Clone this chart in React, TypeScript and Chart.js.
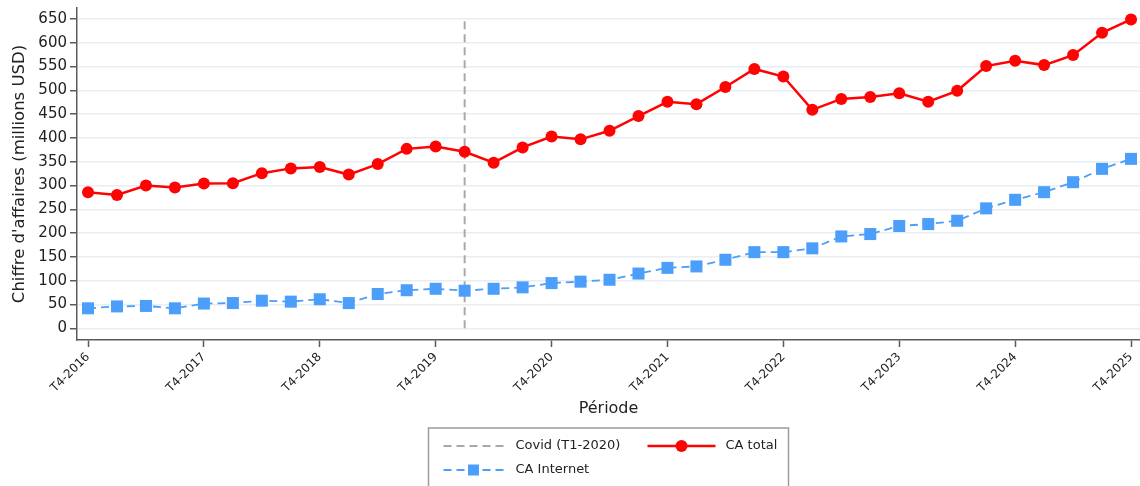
import React, { useEffect, useRef } from 'react';
import { Chart, registerables } from 'chart.js';

Chart.register(...registerables);

const periods = [
  'T4-2016', 'T1-2017', 'T2-2017', 'T3-2017', 'T4-2017', 'T1-2018', 'T2-2018', 'T3-2018', 'T4-2018',
  'T1-2019', 'T2-2019', 'T3-2019', 'T4-2019', 'T1-2020', 'T2-2020', 'T3-2020', 'T4-2020',
  'T1-2021', 'T2-2021', 'T3-2021', 'T4-2021', 'T1-2022', 'T2-2022', 'T3-2022', 'T4-2022',
  'T1-2023', 'T2-2023', 'T3-2023', 'T4-2023', 'T1-2024', 'T2-2024', 'T3-2024', 'T4-2024',
  'T1-2025', 'T2-2025', 'T3-2025', 'T4-2025',
];

const caTotal = [
  286, 280, 300, 296, 304, 305, 326, 336, 339, 323,
  345, 377, 382, 371, 348, 380, 403, 397, 415, 446,
  476, 471, 507, 545, 529, 459, 482, 486, 494, 476,
  499, 551, 562, 553, 574, 621, 649,
];

const caInternet = [
  42, 46, 47, 42, 52, 53, 58, 56, 61, 53,
  72, 80, 83, 79, 83, 86, 95, 98, 102, 115,
  127, 130, 144, 160, 160, 168, 193, 198, 215, 219,
  226, 252, 270, 286, 307, 335, 356,
];

const covidPeriod = 'T1-2020';
const covidSpan = [0, 650];

const yTicks = [0, 50, 100, 150, 200, 250, 300, 350, 400, 450, 500, 550, 600, 650];

const FONT = "'DejaVu Sans', 'Noto Sans', sans-serif";
const RED = '#ff0202';
const BLUE = '#4b9ffa';
const GRAY = '#a9a9a9';
const AXIS = '#5a5a5a';
const TEXT = '#222222';

const boxLegend = {
  id: 'boxLegend',
  afterDraw(chart: any) {
    const { ctx, chartArea } = chart;
    const cx = (chartArea.left + chartArea.right) / 2;
    const w = 360;
    const left = cx - w / 2;
    const top = 428;
    const row1 = 446;
    const row2 = 470;
    ctx.save();
    ctx.strokeStyle = '#9c9c9c';
    ctx.lineWidth = 1.5;
    ctx.strokeRect(left, top, w, 60);

    ctx.font = `13px ${FONT}`;
    ctx.fillStyle = TEXT;
    ctx.textBaseline = 'middle';
    ctx.textAlign = 'left';

    // Covid
    ctx.strokeStyle = GRAY;
    ctx.lineWidth = 2;
    ctx.setLineDash([8, 5]);
    ctx.beginPath();
    ctx.moveTo(left + 15, row1);
    ctx.lineTo(left + 76, row1);
    ctx.stroke();
    ctx.fillText('Covid (T1-2020)', left + 87, row1);

    // CA total
    ctx.setLineDash([]);
    ctx.strokeStyle = RED;
    ctx.lineWidth = 2.5;
    ctx.beginPath();
    ctx.moveTo(left + 219, row1);
    ctx.lineTo(left + 287, row1);
    ctx.stroke();
    ctx.fillStyle = RED;
    ctx.beginPath();
    ctx.arc(left + 253, row1, 6, 0, Math.PI * 2);
    ctx.fill();
    ctx.fillStyle = TEXT;
    ctx.fillText('CA total', left + 297, row1);

    // CA Internet
    ctx.strokeStyle = BLUE;
    ctx.lineWidth = 1.8;
    ctx.setLineDash([8, 5]);
    ctx.beginPath();
    ctx.moveTo(left + 15, row2);
    ctx.lineTo(left + 76, row2);
    ctx.stroke();
    ctx.setLineDash([]);
    ctx.fillStyle = BLUE;
    ctx.fillRect(left + 45 - 5.5, row2 - 5.5, 11, 11);
    ctx.fillStyle = TEXT;
    ctx.fillText('CA Internet', left + 87, row2);
    ctx.restore();
  },
};

export default function App() {
  const canvasRef = useRef<HTMLCanvasElement | null>(null);

  useEffect(() => {
    if (!canvasRef.current) return;
    const covidIdx = periods.indexOf(covidPeriod);
    const chart = new Chart(canvasRef.current, {
      type: 'line',
      data: {
        datasets: [
          {
            label: 'CA total',
            data: caTotal.map((v, i) => ({ x: i, y: v })),
            borderColor: RED,
            backgroundColor: RED,
            borderWidth: 2.5,
            pointStyle: 'circle',
            pointRadius: 6,
            pointBorderWidth: 0,
            pointBackgroundColor: RED,
            tension: 0,
          },
          {
            label: 'CA Internet',
            data: caInternet.map((v, i) => ({ x: i, y: v })),
            borderColor: BLUE,
            backgroundColor: BLUE,
            borderWidth: 1.8,
            borderDash: [8, 5],
            pointStyle: 'rect',
            pointRadius: 8.5,
            pointBorderWidth: 0,
            pointBackgroundColor: BLUE,
            tension: 0,
          },
          {
            label: 'Covid (T1-2020)',
            data: covidSpan.map((v) => ({ x: covidIdx, y: v })),
            borderColor: GRAY,
            borderWidth: 2,
            borderDash: [8, 5],
            pointRadius: 0,
            tension: 0,
          },
        ],
      },
      options: {
        animation: false,
        responsive: true,
        maintainAspectRatio: false,
        layout: { autoPadding: false, padding: { left: 0, right: 0, top: 8, bottom: 0 } },
        plugins: {
          legend: { display: false },
          tooltip: { enabled: false },
        },
        scales: {
          x: {
            type: 'linear',
            min: -0.38,
            max: 36.31,
            afterFit(scale: any) {
              scale.height = 146;
              scale.paddingLeft = 0;
              scale.paddingRight = 0;
            },
            afterBuildTicks(scale: any) {
              scale.ticks = periods
                .map((p, i) => ({ p, i }))
                .filter((o) => o.p.startsWith('T4'))
                .map((o) => ({ value: o.i }));
            },
            ticks: {
              autoSkip: false,
              minRotation: 45,
              maxRotation: 45,
              padding: 3,
              color: TEXT,
              font: { family: FONT, size: 12 },
              callback: (v: any) => periods[Number(v)] ?? '',
            },
            grid: {
              display: true,
              drawOnChartArea: false,
              drawTicks: true,
              tickLength: 7,
              tickColor: AXIS,
              tickWidth: 1.5,
            },
            border: { display: true, color: AXIS, width: 1.5 },
            title: {
              display: true,
              text: 'Période',
              color: TEXT,
              font: { family: FONT, size: 16 },
              padding: { top: 0, bottom: 68 },
            },
          },
          y: {
            type: 'linear',
            min: -24.6,
            max: 673,
            afterFit(scale: any) {
              scale.width = 77;
              scale.paddingTop = 0;
              scale.paddingBottom = 0;
            },
            afterBuildTicks(scale: any) {
              scale.ticks = yTicks.map((v) => ({ value: v }));
            },
            ticks: {
              padding: 3,
              color: TEXT,
              font: { family: FONT, size: 15 },
            },
            grid: {
              color: '#e8eef2',
              lineWidth: 1.5,
              drawTicks: true,
              tickLength: 7,
              tickColor: AXIS,
              tickWidth: 1.5,
            },
            border: { display: true, color: AXIS, width: 1.5 },
            title: {
              display: true,
              text: "Chiffre d'affaires (millions USD)",
              color: TEXT,
              font: { family: FONT, size: 16.5 },
              padding: { top: 10, bottom: 0 },
            },
          },
        },
      },
      plugins: [boxLegend],
    } as any);
    return () => chart.destroy();
  }, []);

  return (
    <div style={{ position: 'fixed', left: 0, top: 0, width: 1140, height: 486, background: '#fff' }}>
      <canvas ref={canvasRef} />
    </div>
  );
}
